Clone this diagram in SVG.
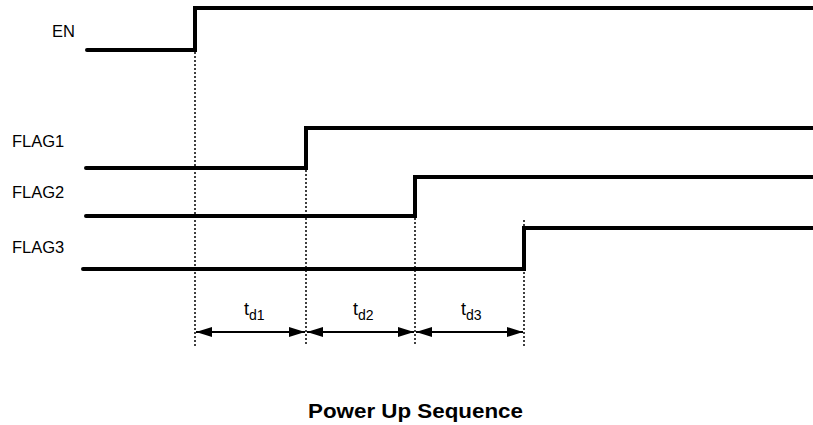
<svg xmlns="http://www.w3.org/2000/svg" width="813" height="425" viewBox="0 0 813 425">
<style>
.sig{fill:none;stroke:#000;stroke-width:4;stroke-linecap:round;stroke-linejoin:miter}
.dot{stroke:#000;stroke-width:1.5;stroke-dasharray:2 2;fill:none}
.arr{stroke:#000;stroke-width:2;fill:none;marker-start:url(#ah);marker-end:url(#ah)}
.lbl{font-family:"Liberation Sans",Arial,sans-serif;font-size:16.5px;fill:#000}
.td{font-family:"Liberation Sans",Arial,sans-serif;font-size:18px;fill:#000}
.ttl{font-family:"Liberation Sans",Arial,sans-serif;font-size:20px;font-weight:bold;fill:#000}
</style>
<defs>
<marker id="ah" viewBox="0 0 16 10" refX="16" refY="5" markerWidth="16" markerHeight="10" markerUnits="userSpaceOnUse" orient="auto-start-reverse">
<path d="M0,0 L16,5 L0,10 Z" fill="#000"/>
</marker>
</defs>
<rect width="813" height="425" fill="#fff"/>
<g id="EN">
<text class="lbl" x="52" y="37">EN</text>
<path class="sig" d="M87,50 H195 V8 H815"/>
</g>
<g id="FLAG1">
<text class="lbl" x="12" y="147">FLAG1</text>
<path class="sig" d="M86,168 H306 V128 H815"/>
</g>
<g id="FLAG2">
<text class="lbl" x="12" y="198">FLAG2</text>
<path class="sig" d="M86,216 H415 V177 H815"/>
</g>
<g id="FLAG3">
<text class="lbl" x="12" y="253">FLAG3</text>
<path class="sig" d="M83,269 H524 V228 H815"/>
</g>
<g id="connectors">
<line class="dot" x1="195" y1="52" x2="195" y2="346"/>
<line class="dot" x1="306" y1="170" x2="306" y2="346"/>
<line class="dot" x1="415" y1="218" x2="415" y2="346"/>
<line class="dot" x1="524" y1="220" x2="524" y2="346"/>
<line class="arr" x1="196" y1="332" x2="305" y2="332"/>
<line class="arr" x1="307" y1="332" x2="414" y2="332"/>
<line class="arr" x1="416" y1="332" x2="523" y2="332"/>
</g>
<g id="labels">
<text class="td" x="244" y="315">t<tspan font-size="14" dy="5">d1</tspan></text>
<text class="td" x="353" y="315">t<tspan font-size="14" dy="5">d2</tspan></text>
<text class="td" x="461" y="315">t<tspan font-size="14" dy="5">d3</tspan></text>
<text class="ttl" x="415.5" y="418" text-anchor="middle" textLength="215" lengthAdjust="spacingAndGlyphs">Power Up Sequence</text>
</g>
</svg>
